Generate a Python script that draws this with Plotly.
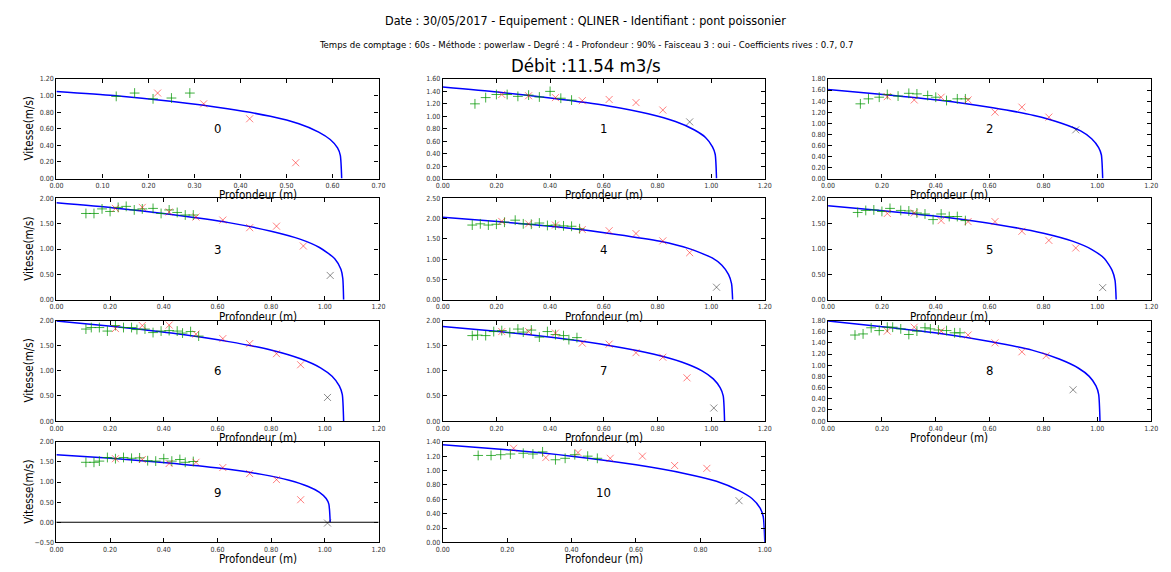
import plotly.graph_objects as go

# ---------------- text ----------------
TITLE = "Date : 30/05/2017 - Equipement : QLINER - Identifiant : pont poissonier"
SUBTITLE = ("Temps de comptage : 60s - Méthode : powerlaw - Degré : 4 - Profondeur : 90% - "
            "Faisceau 3 : oui - Coefficients rives : 0.7, 0.7")
DEBIT = "Débit :11.54 m3/s"
X_TITLE = "Profondeur (m)"
Y_TITLE = "Vitesse(m/s)"
PANEL_LABELS = ["0", "1", "2", "3", "4", "5", "6", "7", "8", "9", "10"]

# ---------------- axes ----------------
X_MAX = [0.7, 1.2, 1.2, 1.2, 1.2, 1.2, 1.2, 1.2, 1.2, 1.2, 1.0]
X_DTICK = [0.1, 0.2, 0.2, 0.2, 0.2, 0.2, 0.2, 0.2, 0.2, 0.2, 0.2]
Y_MIN = [0, 0, 0, 0, 0, 0, 0, 0, 0, -0.5, 0]
Y_MAX = [1.2, 1.6, 1.8, 2.0, 2.5, 2.0, 2.0, 2.0, 1.8, 2.0, 1.4]
Y_DTICK = [0.2, 0.2, 0.2, 0.5, 0.5, 0.5, 0.5, 0.5, 0.2, 0.5, 0.2]

# ---------------- data: green "+" points ----------------
GREEN_X = [
    [0.13, 0.17, 0.21, 0.25, 0.29],
    [0.12, 0.16, 0.20, 0.24, 0.28, 0.32, 0.36, 0.40, 0.44, 0.48],
    [0.12, 0.15, 0.19, 0.22, 0.26, 0.30, 0.33, 0.37, 0.40, 0.44, 0.48, 0.51],
    [0.11, 0.14, 0.17, 0.20, 0.23, 0.26, 0.29, 0.32, 0.36, 0.39, 0.42, 0.45, 0.48, 0.51],
    [0.11, 0.14, 0.17, 0.20, 0.23, 0.27, 0.30, 0.33, 0.36, 0.39, 0.42, 0.45, 0.48, 0.51],
    [0.11, 0.14, 0.17, 0.20, 0.23, 0.27, 0.30, 0.33, 0.36, 0.39, 0.42, 0.45, 0.48, 0.51],
    [0.11, 0.13, 0.16, 0.19, 0.22, 0.25, 0.28, 0.30, 0.33, 0.36, 0.39, 0.42, 0.45, 0.47, 0.50, 0.53],
    [0.11, 0.13, 0.16, 0.19, 0.22, 0.25, 0.28, 0.30, 0.33, 0.36, 0.39, 0.42, 0.45, 0.47, 0.50],
    [0.10, 0.13, 0.16, 0.19, 0.22, 0.24, 0.27, 0.30, 0.33, 0.36, 0.38, 0.41, 0.44, 0.47, 0.49],
    [0.11, 0.14, 0.16, 0.19, 0.22, 0.25, 0.28, 0.31, 0.34, 0.37, 0.40, 0.43, 0.46, 0.48, 0.51],
    [0.11, 0.15, 0.18, 0.21, 0.25, 0.28, 0.31, 0.35, 0.38, 0.41, 0.45, 0.48],
]
GREEN_Y = [
    [0.99, 1.03, 0.96, 0.97, 1.03],
    [1.20, 1.30, 1.35, 1.35, 1.32, 1.34, 1.31, 1.40, 1.29, 1.26],
    [1.35, 1.44, 1.47, 1.52, 1.49, 1.54, 1.53, 1.50, 1.47, 1.41, 1.44, 1.44],
    [1.70, 1.70, 1.79, 1.74, 1.82, 1.84, 1.77, 1.79, 1.80, 1.70, 1.77, 1.72, 1.67, 1.67],
    [1.84, 1.87, 1.84, 1.86, 1.91, 1.96, 1.87, 1.86, 1.89, 1.83, 1.84, 1.82, 1.81, 1.75],
    [1.72, 1.76, 1.77, 1.74, 1.80, 1.76, 1.75, 1.71, 1.69, 1.58, 1.69, 1.64, 1.64, 1.56],
    [1.83, 1.86, 1.86, 1.79, 1.90, 1.86, 1.86, 1.82, 1.83, 1.76, 1.79, 1.80, 1.79, 1.75, 1.78, 1.69],
    [1.70, 1.71, 1.70, 1.78, 1.80, 1.76, 1.83, 1.77, 1.81, 1.67, 1.78, 1.72, 1.70, 1.62, 1.66],
    [1.54, 1.56, 1.67, 1.62, 1.68, 1.68, 1.65, 1.55, 1.61, 1.67, 1.65, 1.63, 1.62, 1.58, 1.58],
    [1.49, 1.49, 1.52, 1.61, 1.58, 1.61, 1.59, 1.60, 1.53, 1.52, 1.58, 1.52, 1.56, 1.49, 1.51],
    [1.21, 1.21, 1.22, 1.23, 1.24, 1.23, 1.26, 1.15, 1.17, 1.22, 1.20, 1.17],
]

# ---------------- data: red "x" points ----------------
RED_X = [
    [0.22, 0.32, 0.42, 0.52],
    [0.22, 0.32, 0.42, 0.52, 0.62, 0.72, 0.82],
    [0.22, 0.32, 0.42, 0.52, 0.62, 0.72, 0.82],
    [0.22, 0.32, 0.42, 0.52, 0.62, 0.72, 0.82, 0.92],
    [0.22, 0.32, 0.42, 0.52, 0.62, 0.72, 0.82, 0.92],
    [0.22, 0.32, 0.42, 0.52, 0.62, 0.72, 0.82, 0.92],
    [0.22, 0.32, 0.42, 0.52, 0.62, 0.72, 0.82, 0.91],
    [0.22, 0.32, 0.42, 0.52, 0.62, 0.72, 0.82, 0.91],
    [0.22, 0.32, 0.42, 0.52, 0.62, 0.72, 0.81],
    [0.22, 0.32, 0.42, 0.52, 0.62, 0.72, 0.82, 0.91],
    [0.22, 0.32, 0.42, 0.52, 0.62, 0.72, 0.82],
]
RED_Y = [
    [1.03, 0.90, 0.72, 0.19],
    [1.35, 1.33, 1.30, 1.25, 1.27, 1.22, 1.10],
    [1.48, 1.42, 1.47, 1.42, 1.20, 1.29, 1.11],
    [1.80, 1.82, 1.73, 1.63, 1.57, 1.42, 1.45, 1.06],
    [1.93, 1.87, 1.84, 1.73, 1.70, 1.63, 1.45, 1.16],
    [1.70, 1.71, 1.56, 1.54, 1.54, 1.35, 1.17, 1.02],
    [1.84, 1.90, 1.91, 1.73, 1.64, 1.54, 1.34, 1.12],
    [1.78, 1.78, 1.75, 1.55, 1.53, 1.36, 1.27, 0.86],
    [1.61, 1.68, 1.61, 1.54, 1.40, 1.24, 1.17],
    [1.58, 1.56, 1.46, 1.49, 1.36, 1.21, 1.06, 0.56],
    [1.31, 1.18, 1.25, 1.17, 1.20, 1.07, 1.03],
]

# ---------------- data: grey "x" points ----------------
GREY_X = [[], [0.92], [0.92], [1.02], [1.02], [1.02], [1.01], [1.01], [0.91], [1.01], [0.92]]
GREY_Y = [[], [0.91], [0.88], [0.48], [0.31], [0.24], [0.47], [0.26], [0.56], [-0.02], [0.58]]

# ---------------- data: fitted profile (blue line) ----------------
CURVE_X = [
    [0, 0.124, 0.248, 0.372, 0.465, 0.527, 0.570, 0.595, 0.611, 0.617, 0.62],
    [0, 0.204, 0.408, 0.612, 0.765, 0.867, 0.938, 0.979, 1.005, 1.015, 1.02],
    [0, 0.204, 0.408, 0.612, 0.765, 0.867, 0.938, 0.979, 1.005, 1.015, 1.02],
    [0, 0.214, 0.428, 0.642, 0.80, 0.91, 0.98, 1.037, 1.06, 1.067, 1.07],
    [0, 0.216, 0.432, 0.648, 0.81, 0.918, 1.004, 1.04, 1.065, 1.076, 1.08],
    [0, 0.214, 0.428, 0.642, 0.80, 0.91, 0.98, 1.027, 1.055, 1.066, 1.07],
    [0, 0.214, 0.428, 0.642, 0.8025, 0.9095, 0.984, 1.027, 1.054, 1.065, 1.07],
    [0, 0.21, 0.42, 0.63, 0.7875, 0.8925, 0.966, 1.008, 1.034, 1.045, 1.05],
    [0, 0.202, 0.404, 0.606, 0.7575, 0.8585, 0.929, 0.97, 0.995, 1.005, 1.01],
    [0, 0.204, 0.408, 0.612, 0.765, 0.867, 0.938, 0.979, 1.005, 1.015, 1.02],
    [0, 0.2, 0.4, 0.6, 0.75, 0.85, 0.92, 0.96, 0.985, 0.995, 1.0],
]
CURVE_Y = [
    [1.05, 1.00, 0.93, 0.84, 0.75, 0.66, 0.56, 0.47, 0.37, 0.28, 0.0],
    [1.47, 1.39, 1.29, 1.17, 1.04, 0.915, 0.78, 0.66, 0.51, 0.39, 0.0],
    [1.61, 1.52, 1.42, 1.28, 1.14, 1.00, 0.86, 0.72, 0.56, 0.43, 0.0],
    [1.91, 1.81, 1.68, 1.52, 1.35, 1.19, 1.03, 0.81, 0.60, 0.42, 0.0],
    [2.03, 1.92, 1.79, 1.61, 1.44, 1.26, 1.03, 0.85, 0.62, 0.40, 0.0],
    [1.85, 1.75, 1.63, 1.47, 1.31, 1.15, 0.99, 0.81, 0.58, 0.38, 0.0],
    [1.99, 1.88, 1.75, 1.58, 1.41, 1.24, 1.06, 0.89, 0.70, 0.53, 0.0],
    [1.88, 1.78, 1.655, 1.495, 1.33, 1.17, 1.00, 0.84, 0.66, 0.50, 0.0],
    [1.79, 1.69, 1.575, 1.42, 1.27, 1.11, 0.95, 0.80, 0.63, 0.48, 0.0],
    [1.68, 1.59, 1.48, 1.34, 1.19, 1.045, 0.89, 0.75, 0.59, 0.45, 0.0],
    [1.36, 1.29, 1.20, 1.08, 0.96, 0.85, 0.72, 0.61, 0.48, 0.36, 0.0],
]

# ---------------- layout geometry (pixels) ----------------
W, H = 1171, 572
COL_PX = [(50, 376), (441, 767), (831, 1158)]
ROW_PX = [(76, 177), (197, 300), (321, 423), (444, 546)]
FONT = "DejaVu Sans Condensed, DejaVu Sans, sans-serif"

GREEN = "rgba(0,150,0,0.75)"
RED = "rgba(255,0,0,0.5)"
GREY = "rgba(0,0,0,0.45)"

fig = go.Figure()
layout = dict(
    width=W, height=H, margin=dict(l=0, r=0, t=0, b=0),
    paper_bgcolor="white", plot_bgcolor="white", showlegend=False,
    font=dict(family=FONT, color="black"),
)
annotations = []
shapes = []

for i in range(len(PANEL_LABELS)):
    r, c = divmod(i, 3)
    x0p, x1p = COL_PX[c]
    y0p, y1p = ROW_PX[r]
    sfx = "" if i == 0 else str(i + 1)
    xa, ya = "x" + sfx, "y" + sfx

    layout["xaxis" + sfx] = dict(
        domain=[x0p / W, x1p / W], anchor=ya, range=[0, X_MAX[i]],
        tick0=0, dtick=X_DTICK[i], tickformat=".2f",
        ticks="inside", ticklen=4, tickwidth=1, tickcolor="black",
        showline=True, linecolor="black", linewidth=1.2, mirror="allticks",
        showgrid=False, zeroline=False,
        tickfont=dict(size=7, color="#333", family=FONT),
    )
    layout["yaxis" + sfx] = dict(
        domain=[1 - y1p / H, 1 - y0p / H], anchor=xa, range=[Y_MIN[i], Y_MAX[i]],
        tick0=0, dtick=Y_DTICK[i], tickformat=".2f",
        ticks="inside", ticklen=4, tickwidth=1, tickcolor="black",
        showline=True, linecolor="black", linewidth=1.2, mirror="allticks",
        showgrid=False, zeroline=False,
        tickfont=dict(size=7, color="#333", family=FONT),
    )

    fig.add_trace(go.Scatter(
        x=CURVE_X[i], y=CURVE_Y[i], mode="lines", xaxis=xa, yaxis=ya,
        line=dict(color="#0000ff", width=1.5, shape="spline", smoothing=0.6),
    ))
    fig.add_trace(go.Scatter(
        x=GREEN_X[i], y=GREEN_Y[i], mode="markers", xaxis=xa, yaxis=ya,
        marker=dict(symbol="cross-thin-open", size=7, color=GREEN,
                    line=dict(color=GREEN, width=1)),
    ))
    fig.add_trace(go.Scatter(
        x=RED_X[i], y=RED_Y[i], mode="markers", xaxis=xa, yaxis=ya,
        marker=dict(symbol="x-thin-open", size=7, color=RED,
                    line=dict(color=RED, width=1)),
    ))
    if GREY_X[i]:
        fig.add_trace(go.Scatter(
            x=GREY_X[i], y=GREY_Y[i], mode="markers", xaxis=xa, yaxis=ya,
            marker=dict(symbol="x-thin-open", size=7, color=GREY,
                        line=dict(color=GREY, width=1)),
        ))

    if Y_MIN[i] < 0:
        shapes.append(dict(type="line", xref=xa + " domain", yref=ya,
                           x0=0, x1=1, y0=0, y1=0,
                           line=dict(color="black", width=1.2)))

    # panel number
    annotations.append(dict(
        text=PANEL_LABELS[i], xref=xa + " domain", yref=ya + " domain",
        x=0.5, y=0.5, showarrow=False, font=dict(size=13, color="black")))
    # x title
    annotations.append(dict(
        text=X_TITLE, xref="paper", yref="paper",
        x=(x0p + x1p) / 2 / W, y=1 - (y1p + 17) / H, yanchor="middle",
        showarrow=False, font=dict(size=11.5, color="black")))
    # y title (first column only)
    if c == 0:
        annotations.append(dict(
            text=Y_TITLE, xref="paper", yref="paper", textangle=-90,
            x=22 / W, y=1 - (y0p + y1p) / 2 / H, xanchor="center", yanchor="middle",
            showarrow=False, font=dict(size=11.5, color="black")))

annotations += [
    dict(text=TITLE, xref="paper", yref="paper", x=0.5, y=1 - 17 / H,
         showarrow=False, yanchor="middle", font=dict(size=12.5, color="black")),
    dict(text=SUBTITLE, xref="paper", yref="paper", x=0.5, y=1 - 41 / H,
         showarrow=False, yanchor="middle", font=dict(size=9.5, color="black")),
    dict(text=DEBIT, xref="paper", yref="paper", x=0.5, y=1 - 62 / H,
         showarrow=False, yanchor="middle", font=dict(size=18.5, color="black")),
]

layout["annotations"] = annotations
layout["shapes"] = shapes
fig.update_layout(**layout)
fig.write_html("out.html")
